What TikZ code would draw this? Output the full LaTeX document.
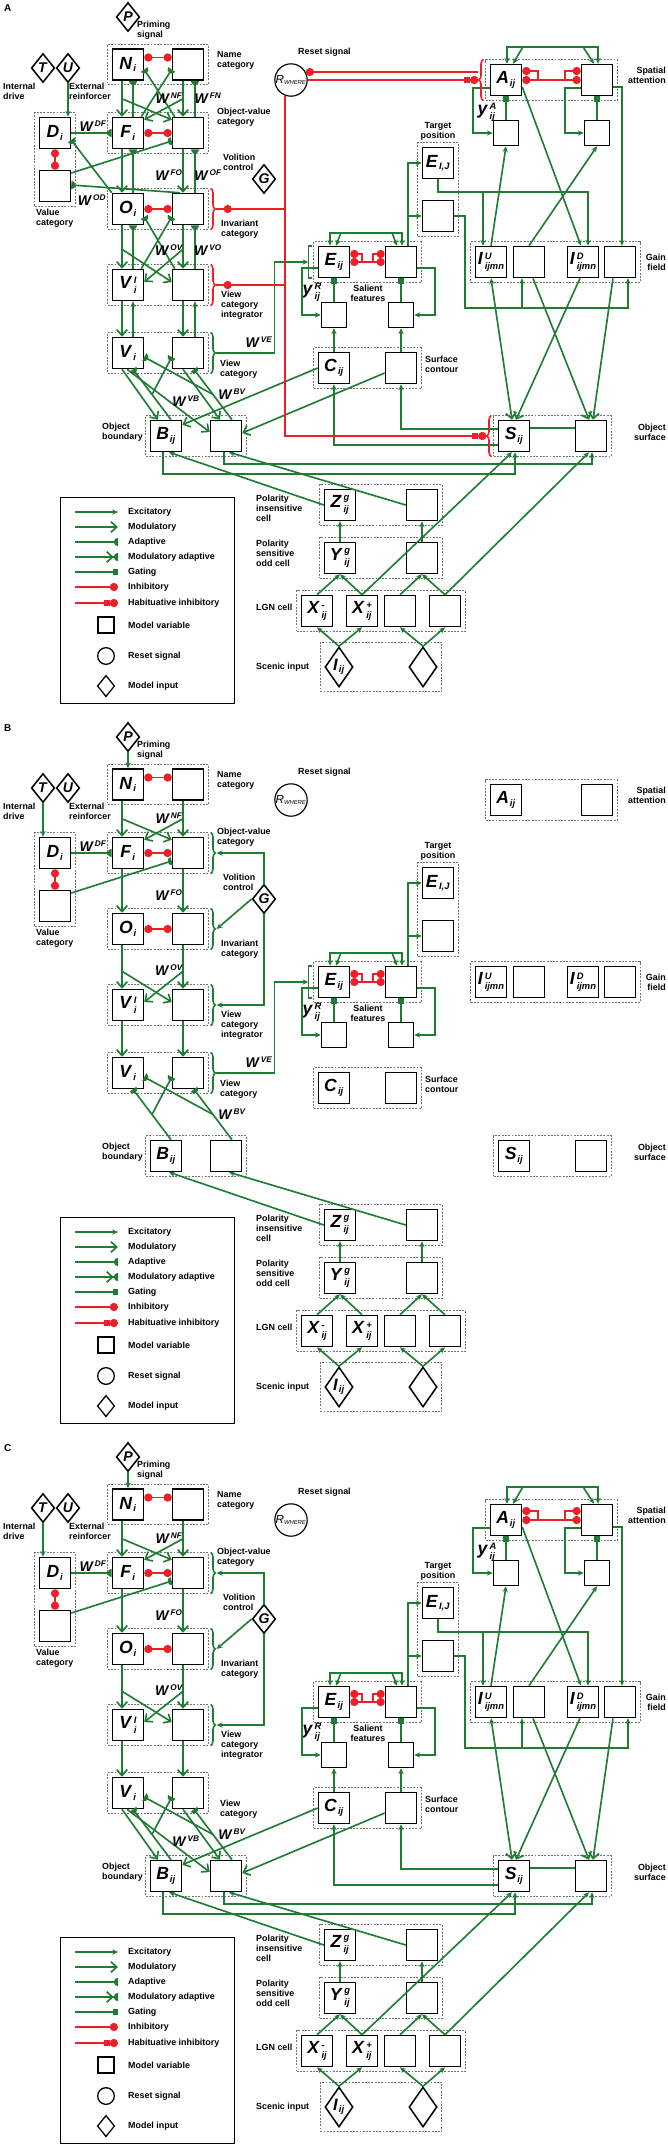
\documentclass[tikz,border=0pt]{standalone}
\usepackage{fontspec}
\setmainfont{Liberation Sans}
\usepackage{tikz}
\usetikzlibrary{arrows.meta,calc,fit,positioning,shapes.geometric,decorations.pathreplacing}

\definecolor{grn}{RGB}{30,125,50}
\definecolor{inhred}{RGB}{236,32,38}

% half disk tip for adaptive weights
\pgfdeclarearrow{
  name = HalfDisk,
  parameters = {\the\pgfarrowlength},
  setup code = {
    \pgfarrowssettipend{0pt}
    \pgfarrowssetlineend{-0.5\pgfarrowlength}
    \pgfarrowssetbackend{-\pgfarrowlength}
    \pgfarrowssavethe\pgfarrowlength
  },
  drawing code = {
    \pgfpathmoveto{\pgfqpoint{0pt}{\pgfarrowlength}}
    \pgfpatharc{90}{270}{\pgfarrowlength}
    \pgfpathclose
    \pgfusepathqfill
  },
  defaults = {length = 3.6pt}
}

\newcommand{\vl}[2]{\textit{#1}\kern0.8pt\ensuremath{_{\mbox{\fontsize{8}{8}\selectfont\bfseries\itshape #2}}}}
\newcommand{\vlu}[3]{\textit{#1}\kern1.4pt\raisebox{-0.3em}{\fontsize{8}{8}\selectfont\bfseries\itshape\shortstack[l]{#3\\#2}}}
\newcommand{\wl}[1]{\textit{W}\kern0.8pt\ensuremath{^{\mbox{\fontsize{7}{7}\selectfont\bfseries\itshape #1}}}}

% nodes shared by the three panels
\newcommand{\panelnodes}[2]{%
\node[lbl, anchor=north west, font=\fontsize{8.5}{8.5}\selectfont\bfseries] (#1tag) at (4,4) {#2};
\node[inp] (#1P) at (128,17) {\textit{P}};
\node[inp] (#1T) at (43,68) {\textit{T}};
\node[inp] (#1U) at (68,68) {\textit{U}};
\node[inp] (#1G) at (264,179) {\textit{G}};
\node[rst] (#1R) at (291,80) {\textit{R}\ensuremath{_{\mbox{\fontsize{5}{5}\selectfont\itshape WHERE}}}};
\node[vbox] (#1Ni) at (128,64.5) {\vl{N}{i}};
\node[vbox] (#1Nr) at (188,64.5) {};
\node[vbox] (#1Fi) at (128,133) {\vl{F}{i}};
\node[vbox] (#1Fr) at (188,133) {};
\node[vbox] (#1Oi) at (128,209) {\vl{O}{i}};
\node[vbox] (#1Or) at (188,209) {};
\node[vbox] (#1VIi) at (128,285) {\vlu{V}{i}{I}};
\node[vbox] (#1VIr) at (188,285) {};
\node[vbox] (#1Vi) at (128,353) {\vl{V}{i}};
\node[vbox] (#1Vr) at (188,353) {};
\node[vbox] (#1Di) at (55,133) {\vl{D}{i}};
\node[vbox] (#1Dl) at (55,186) {};
\node[vbox] (#1Bi) at (166,436) {\vl{B}{ij}};
\node[vbox] (#1Br) at (226,436) {};
\node[vbox] (#1Ai) at (506,80) {\vl{A}{ij}};
\node[vbox] (#1Ar) at (597,80) {};
\node[vbox] (#1EIJ) at (438,163) {\vl{E}{I,J}};
\node[vbox] (#1EL) at (438,216) {};
\node[vbox] (#1Iu) at (491,262) {\vlu{I}{ijmn}{U}};
\node[vbox] (#1Ib) at (529,262) {};
\node[vbox] (#1Id) at (583,262) {\vlu{I}{ijmn}{D}};
\node[vbox] (#1Ie) at (620,262) {};
\node[vbox] (#1Ei) at (334,262) {\vl{E}{ij}};
\node[vbox] (#1Er) at (401,262) {};
\node[sbox] (#1yR) at (334,315) {};
\node[sbox] (#1yRr) at (401,315) {};
\node[vbox] (#1Ci) at (334,368) {\vl{C}{ij}};
\node[vbox] (#1Cr) at (401,368) {};
\node[vbox] (#1Si) at (514,436) {\vl{S}{ij}};
\node[vbox] (#1Sr) at (591,436) {};
\node[vbox] (#1Zi) at (340,505) {\vlu{Z}{ij}{g}};
\node[vbox] (#1Zr) at (422,505) {};
\node[vbox] (#1Yi) at (340,558) {\vlu{Y}{ij}{g}};
\node[vbox] (#1Yr) at (422,558) {};
\node[vbox] (#1Xm) at (317,611) {\vlu{X}{ij}{-}};
\node[vbox] (#1Xp) at (362,611) {\vlu{X}{ij}{+}};
\node[vbox] (#1Xc) at (400,611) {};
\node[vbox] (#1Xd) at (445,611) {};
\node[scn] (#1Ii) at (339,667) {\vl{I}{ij}};
\node[scn] (#1Ir) at (423,667) {};
\node[grp, fit=(#1Ni)(#1Nr)] (#1gN) {};
\node[grp, fit=(#1Fi)(#1Fr)] (#1gF) {};
\node[grp, fit=(#1Oi)(#1Or)] (#1gO) {};
\node[grp, fit=(#1VIi)(#1VIr)] (#1gVI) {};
\node[grp, fit=(#1Vi)(#1Vr)] (#1gV) {};
\node[grp, fit=(#1Di)(#1Dl)] (#1gD) {};
\node[grp, fit=(#1Bi)(#1Br)] (#1gB) {};
\node[grp, fit=(#1Ai)(#1Ar)] (#1gA) {};
\node[grp, fit=(#1EIJ)(#1EL)] (#1gT) {};
\node[grp, fit=(#1Iu)(#1Ie)] (#1gG) {};
\node[grp, fit=(#1Ei)(#1Er)] (#1gE) {};
\node[grp, fit=(#1Ci)(#1Cr)] (#1gC) {};
\node[grp, fit=(#1Si)(#1Sr)] (#1gS) {};
\node[grp, fit=(#1Zi)(#1Zr)] (#1gZ) {};
\node[grp, fit=(#1Yi)(#1Yr)] (#1gY) {};
\node[grp, fit=(#1Xm)(#1Xd)] (#1gX) {};
\node[grp, fit=(#1Ii.north)(#1Ii.south)(#1Ii.west)(#1Ir.east)] (#1gI) {};
\node[lbl, anchor=north west] (#1tP) at (137,21) {Priming\\signal};
\node[lbl, anchor=west] (#1tN) at (217,60) {Name\\category};
\node[lbl, anchor=north west] (#1tT) at (3,83) {Internal\\drive};
\node[lbl, anchor=north west] (#1tU) at (69,83) {External\\reinforcer};
\node[lbl, anchor=north west] (#1tD) at (36,209) {Value\\category};
\node[lbl, anchor=west] (#1tF) at (217,117) {Object-value\\category};
\node[lbl, anchor=north west] (#1tG) at (223,154) {Volition\\control};
\node[lbl, anchor=north west] (#1tO) at (221,220) {Invariant\\category};
\node[lbl, anchor=north west] (#1tVI) at (221,291) {View\\category\\integrator};
\node[lbl, anchor=north west] (#1tV) at (220,360) {View\\category};
\node[lbl, anchor=west] (#1tR) at (298,52) {Reset signal};
\node[lbl, anchor=east, align=right] (#1tA) at (666,75) {Spatial\\attention};
\node[lbl, anchor=south, align=center] (#1tEIJ) at (438,141) {Target\\position};
\node[lbl, anchor=east, align=right] (#1tI) at (666,262) {Gain\\field};
\node[lbl, anchor=north, align=center] (#1tE) at (368,285) {Salient\\features};
\node[lbl, anchor=west] (#1tC) at (425,364) {Surface\\contour};
\node[lbl, anchor=east, align=right] (#1tS) at (666,432) {Object\\surface};
\node[lbl, anchor=east] (#1tB) at (143,432) {Object\\boundary};
\node[lbl, anchor=west] (#1tZ) at (256,508) {Polarity\\insensitive\\cell};
\node[lbl, anchor=west] (#1tY) at (256,553) {Polarity\\sensitive\\odd cell};
\node[lbl, anchor=west] (#1tX) at (256,607) {LGN cell};
\node[lbl, anchor=west] (#1tIn) at (256,667) {Scenic input};
\node[ylab] (#1tyR) at (312,292) {\vlu{y}{ij}{R}};
}

\newcommand{\legendkey}[1]{%
\node[draw, line width=0.8pt, minimum width=5.22cm, minimum height=6.18cm, inner sep=0pt] (#1leg) at (147,600) {};
\node[lbl, anchor=west] (#1k1) at (128,512) {Excitatory};
\node[lbl, anchor=west] (#1k2) at (128,527) {Modulatory};
\node[lbl, anchor=west] (#1k3) at (128,542) {Adaptive};
\node[lbl, anchor=west] (#1k4) at (128,557) {Modulatory adaptive};
\node[lbl, anchor=west] (#1k5) at (128,572) {Gating};
\node[lbl, anchor=west] (#1k6) at (128,587) {Inhibitory};
\node[lbl, anchor=west] (#1k7) at (128,603) {Habituative inhibitory};
\node[lbl, anchor=west] (#1k8) at (128,625) {Model variable};
\node[lbl, anchor=west] (#1k9) at (128,656) {Reset signal};
\node[lbl, anchor=west] (#1k10) at (128,686) {Model input};
\draw[exc] ($(#1k1.west)+(-53,0)$) -- ($(#1k1.west)+(-10,0)$);
\draw[mod] ($(#1k2.west)+(-53,0)$) -- ($(#1k2.west)+(-10,0)$);
\draw[adp] ($(#1k3.west)+(-53,0)$) -- ($(#1k3.west)+(-10,0)$);
\draw[madp] ($(#1k4.west)+(-53,0)$) -- ($(#1k4.west)+(-10,0)$);
\draw[gat] ($(#1k5.west)+(-53,0)$) -- ($(#1k5.west)+(-10,0)$);
\draw[inh] ($(#1k6.west)+(-53,0)$) -- ($(#1k6.west)+(-10,0)$);
\draw[hab] ($(#1k7.west)+(-53,0)$) -- ($(#1k7.west)+(-10,0)$);
\node[draw, line width=1.1pt, minimum size=0.48cm, inner sep=0pt] (#1k8s) at (106,625) {};
\node[circle, draw, line width=1.1pt, minimum size=0.5cm, inner sep=0pt] (#1k9s) at (106,656) {};
\node[diamond, draw, line width=1.1pt, minimum width=0.52cm, minimum height=0.64cm, inner sep=0pt] (#1k10s) at (106,686) {};
}

% wiring found in every panel
\newcommand{\wirebase}[1]{%
\draw[inh2] ($(#1Ni.east)+(0,-7)$) -- ($(#1Nr.west)+(0,-7)$);
\draw[inh2] (#1Fi) -- (#1Fr);
\draw[inh2] (#1Oi) -- (#1Or);
\draw[inh2] (#1Di) -- (#1Dl);
\draw[adp] (#1Di) -- (#1Fi);
\draw[adp] ($(#1Dl.east)+(0,-13)$) -- ($(#1Fr.west)+(0,8)$);
\node[wlab] (#1wDF) at (93,126) {\wl{DF}};
% salient features
\draw[inhs] ($(#1Ei.east)+(0,-8)$) -| ($(#1Ei.east)+(12,0)$);
\draw[inh2] (#1Ei) -- (#1Er);
\draw[inhs] ($(#1Er.west)+(0,-8)$) -| ($(#1Er.west)+(-12,0)$);
\draw[wire, {Stealth[length=5pt,width=4.5pt]}-{Stealth[length=5pt,width=4.5pt]}] ($(#1Ei.north)+(-4,0)$) -- ++(0,-13) -| ($(#1Er.north)+(1,0)$);
\draw[exc] ($(#1Ei.north)+(7,-13)$) -- ($(#1Ei.north)+(2,0)$);
\draw[exc] ($(#1Er.north)+(-9,-13)$) -- ($(#1Er.north)+(-4,0)$);
\draw[exc] ($(#1Er.north)+(7,0)$) |- (#1EIJ);
\draw[exc] ($(#1Er.north)+(7,0)$) |- (#1EL);
\draw[gat] (#1yR) -- (#1Ei);
\draw[gat] (#1yRr) -- (#1Er);
\draw[exc] ($(#1Ei.west)+(0,6)$) -- ++(-16,0) |- (#1yR);
\draw[exc] ($(#1Er.east)+(0,6)$) -- ++(18,0) |- (#1yRr);
% retina to boundaries
\draw[exc] (#1Ii.north) -- (#1Xm.south);
\draw[exc] (#1Ii.north) -- (#1Xp.south);
\draw[exc] (#1Ir.north) -- (#1Xc.south);
\draw[exc] (#1Ir.north) -- (#1Xd.south);
\draw[exc] (#1Xm.north) -- (#1Yi.south);
\draw[exc] (#1Xp.north) -- (#1Yi.south);
\draw[exc] (#1Xc.north) -- (#1Yr.south);
\draw[exc] (#1Xd.north) -- (#1Yr.south);
\draw[exc] (#1Yi) -- (#1Zi);
\draw[exc] (#1Yr) -- (#1Zr);
\draw[exc] (#1Zi.west) -- ($(#1Bi.south)+(3,0)$);
\draw[exc] (#1Zr.west) -- ($(#1Br.south)+(3,0)$);
% boundaries to view categories
\draw[adp] ($(#1Bi.north)+(5,0)$) -- ($(#1Vi.south)+(5,0)$);
\draw[adp] ($(#1Bi.north)!0.5!(#1Vi.south)+(5,0)$) -- ($(#1Vr.west)+(0,4)$);
\draw[adp] ($(#1Br.north)+(6,0)$) -- ($(#1Vr.south)+(6,0)$);
\draw[adp] ($(#1Br.north)!0.5!(#1Vr.south)+(6,0)$) -- ($(#1Vi.east)+(0,4)$);
\node[wlab] (#1wBV) at (232,394) {\wl{BV}};
}

% single top-down lines (panels B and C)
\newcommand{\wireone}[1]{%
\draw[exc] (#1P) -- (#1Ni);
\draw[exc] (#1T.south) -- (#1T.south |- #1Di.north);
\draw[mod] ($(#1Ni.south)+(-6,0)$) -- ($(#1Fi.north)+(-6,0)$);
\draw[mod] ($(#1Nr.south)+(-5,0)$) -- ($(#1Fr.north)+(-5,0)$);
\draw[mod] ($(#1Ni.south)+(-6,18)$) -- ($(#1Fr.north west)+(0,3)$);
\draw[mod] ($(#1Nr.south)+(-5,18)$) -- ($(#1Fi.north east)+(0,3)$);
\node[wlab] (#1wNF) at (169,98) {\wl{NF}};
\draw[mod] ($(#1Fi.south)+(-6,0)$) -- ($(#1Oi.north)+(-6,0)$);
\draw[mod] ($(#1Fr.south)+(-5,0)$) -- ($(#1Or.north)+(-5,0)$);
\node[wlab] (#1wFO) at (169,175) {\wl{FO}};
\draw[mod] ($(#1Oi.south)+(-6,0)$) -- ($(#1VIi.north)+(-6,0)$);
\draw[mod] ($(#1Or.south)+(-5,0)$) -- ($(#1VIr.north)+(-5,0)$);
\draw[mod] ($(#1Oi.south)+(-6,26)$) -- ($(#1VIr.west)+(0,-3)$);
\draw[mod] ($(#1Or.south)+(-5,26)$) -- ($(#1VIi.east)+(0,-3)$);
\node[wlab] (#1wOV) at (169,250) {\wl{OV}};
\draw[mod] ($(#1VIi.south)+(-6,0)$) -- ($(#1Vi.north)+(-6,0)$);
\draw[mod] ($(#1VIr.south)+(-5,0)$) -- ($(#1Vr.north)+(-5,0)$);
}

% volition control (panels B and C)
\newcommand{\wireG}[1]{%
\draw[wire, brc] ($(#1gF.north east)+(2,0)$) -- ($(#1gF.south east)+(2,0)$);
\draw[wire, brc] ($(#1gO.north east)+(2,0)$) -- ($(#1gO.south east)+(2,0)$);
\draw[wire, brc] ($(#1gVI.north east)+(2,0)$) -- ($(#1gVI.south east)+(2,0)$);
\draw[exc] (#1G.north) |- ($(#1gF.east)+(8,0)$);
\draw[exc] (#1G.west) -- ($(#1gO.east)+(8,0)$);
\draw[exc] (#1G.south) |- ($(#1gVI.east)+(8,0)$);
}

% view category to salient features (panels A and B)
\newcommand{\wireVE}[1]{%
\draw[wire, brc] ($(#1gV.north east)+(2,0)$) -- ($(#1gV.south east)+(2,0)$);
\draw[wire] ($(#1gE.west)+(-1,-16)$) -- ++(-4,0) -- ++(0,32) -- ++(4,0);
\draw[exc] ($(#1gV.east)+(7,0)$) -- ++(59,0) |- ($(#1gE.west)+(-5,0)$);
\node[wlab] (#1wVE) at (259,342) {\wl{VE}};
}

% view category to boundaries (panels A and C)
\newcommand{\wireVBmod}[1]{%
\draw[mod] ($(#1Vi.south)+(-6,0)$) -- ($(#1Bi.north)+(-8,0)$);
\draw[mod] ($(#1Vi.south)+(-1,0)$) -- ($(#1Br.west)+(0,-4)$);
\draw[mod] ($(#1Vr.south)+(-5,0)$) -- ($(#1Br.north)+(-6,0)$);
\node[wlab] (#1wVB) at (186,401) {\wl{VB}};
}

% where stream (panels A and C)
\newcommand{\wirewhere}[1]{%
\node[sbox] (#1yA) at (506,133) {};
\node[sbox] (#1yAr) at (597,133) {};
\node[ylab] (#1tyA) at (487,112) {\vlu{y}{ij}{A}};
\draw[inhs] ($(#1Ai.east)+(0,-9)$) -| ($(#1Ai.east)+(16,0)$);
\draw[inh2] (#1Ai) -- (#1Ar);
\draw[inhs] ($(#1Ar.west)+(0,-9)$) -| ($(#1Ar.west)+(-16,0)$);
\draw[wire, {Stealth[length=5pt,width=4.5pt]}-{Stealth[length=5pt,width=4.5pt]}] ($(#1Ai.north)+(1,0)$) -- ++(0,-17) -| ($(#1Ar.north)+(1,0)$);
\draw[exc] ($(#1Ai.north)+(17,-17)$) -- ($(#1Ai.north)+(7,0)$);
\draw[exc] ($(#1Ar.north)+(-14,-17)$) -- ($(#1Ar.north)+(-3,0)$);
\draw[gat] (#1yA) -- (#1Ai);
\draw[gat] (#1yAr) -- (#1Ar);
\draw[exc] ($(#1Ai.west)+(0,8)$) -- ++(-17,0) |- (#1yA);
\draw[exc] ($(#1Ar.west)+(0,8)$) -- ++(-16,0) |- (#1yAr);
\draw[exc] ($(#1Ai.east)+(0,7)$) -- ($(#1Id.north)+(-2,0)$);
\draw[exc] ($(#1Ar.east)+(0,7)$) -| ($(#1Ie.north)+(2,0)$);
\draw[exc] (#1Iu.north) -- (#1yA.south);
\draw[exc] (#1Ib.north) -- (#1yAr.south);
\coordinate (#1tj) at ($(#1EIJ.south)+(0,13)$);
\draw[exc] (#1EIJ.south) -- (#1tj) -| ($(#1Id.north)+(5,0)$);
\draw[exc] ($(#1tj -| #1Iu.north)+(-8,0)$) -- ($(#1Iu.north)+(-8,0)$);
\coordinate (#1tk) at ($(#1EL.east)+(11,0)$);
\draw[exc] (#1EL.east) -- (#1tk) |- ($(#1Ie.south)+(8,30)$) -- ($(#1Ie.south)+(8,0)$);
\draw[exc] ($(#1Ib.south)+(-7,30)$) -- ($(#1Ib.south)+(-7,0)$);
\draw[wire, {Stealth[length=5pt,width=4.5pt]}-{Straight Barb[length=5pt,width=9pt]}] (#1Iu.south) -- ($(#1Si.north)+(-2,0)$);
\draw[mod] ($(#1Id.south)+(-3,0)$) -- ($(#1Si.north)+(2,0)$);
\draw[mod] ($(#1Ib.south)+(4,0)$) -- ($(#1Sr.north)+(-2,0)$);
\draw[mod] ($(#1Ie.south)+(-7,0)$) -- ($(#1Sr.north)+(2,0)$);
\draw[wire] ($(#1Si.east)+(0,-8)$) -- ($(#1Sr.west)+(0,-8)$);
\draw[exc] ($(#1Si.west)+(0,9)$) -| (#1Ci);
\draw[exc] ($(#1Si.west)+(0,-7)$) -| (#1Cr);
\draw[exc] (#1Ci) -- (#1yR);
\draw[exc] (#1Cr) -- (#1yRr);
\draw[mod] (#1Ci.west) -- ($(#1Bi.north east)+(0,5)$);
\draw[mod] ($(#1Cr.west)+(0,5)$) -- ($(#1Br.east)+(0,-3)$);
\draw[exc] ($(#1Bi.south)+(-3,0)$) -- ++(0,22) -| ($(#1Si.south)+(1,0)$);
\draw[exc] ($(#1Br.south)+(-2,0)$) -- ++(0,12) -| ($(#1Sr.south)+(1,0)$);
\draw[exc] (#1Xp.north) -- ($(#1Si.south)+(-2,0)$);
\draw[exc] (#1Xd.north) -- ($(#1Sr.south)+(-2,0)$);
}

\begin{document}
\begin{tikzpicture}[x=0.03cm, y=-0.03cm,
vbox/.style={draw, line width=1.3pt, minimum size=0.93cm, inner sep=0pt, font=\fontsize{15}{15}\selectfont\bfseries},
sbox/.style={vbox, minimum size=0.75cm},
inp/.style={diamond, draw, line width=1.3pt, inner sep=0pt, minimum width=0.7cm, minimum height=0.87cm, font=\fontsize{12}{12}\selectfont\bfseries},
scn/.style={inp, minimum width=0.84cm, minimum height=1.2cm, font=\fontsize{14}{14}\selectfont\bfseries},
rst/.style={circle, draw, line width=1pt, minimum size=0.96cm, inner sep=0pt, font=\fontsize{10}{10}\selectfont},
grp/.style={draw=black!55, line width=0.6pt, dash pattern=on 1.6pt off 1.2pt, inner sep=0.12cm},
lbl/.style={font=\fontsize{7.6}{8.5}\selectfont\bfseries, align=left, inner sep=0pt},
wlab/.style={font=\fontsize{12}{12}\selectfont\bfseries, inner sep=0pt},
ylab/.style={font=\fontsize{15}{15}\selectfont\bfseries, inner sep=0pt},
wire/.style={draw=grn, line width=1.4pt},
exc/.style={wire, -{Stealth[length=5pt,width=4.5pt]}},
mod/.style={wire, -{Straight Barb[length=5pt,width=9pt]}},
adp/.style={wire, -{HalfDisk[length=3.6pt]}},
madp/.style={wire, -{Straight Barb[length=5pt,width=9pt] HalfDisk[length=3.6pt]}},
gat/.style={wire, -{Square[length=4.5pt,width=4.5pt]}},
rwire/.style={draw=inhred, line width=1.4pt},
inh/.style={rwire, -{Circle[length=7pt]}},
inhs/.style={rwire, {Circle[length=7pt]}-},
inh2/.style={rwire, {Circle[length=7pt]}-{Circle[length=7pt]}},
hab/.style={rwire, -{Square[length=5pt,width=5pt] Circle[length=7pt]}},
brc/.style={decorate, decoration={brace, amplitude=4pt}},
]
\useasboundingbox (0,0) rectangle (667,2146);

% ---------------- panel A
\panelnodes{a}{A}
\legendkey{a}
\wirebase{a}
\wireVE{a}
\wireVBmod{a}
\wirewhere{a}
\draw[exc] (aU.south) -- (aU.south |- aDi.north);
\draw[mod] ($(aNi.south)+(-6,0)$) -- ($(aFi.north)+(-6,0)$);
\draw[adp] ($(aFi.north)+(5,0)$) -- ($(aNi.south)+(5,0)$);
\draw[mod] ($(aNr.south)+(-5,0)$) -- ($(aFr.north)+(-5,0)$);
\draw[adp] ($(aFr.north)+(7,0)$) -- ($(aNr.south)+(7,0)$);
\draw[mod] ($(aNi.south)+(-6,18)$) -- ($(aFr.north west)+(0,3)$);
\draw[mod] ($(aNr.south)+(-5,18)$) -- ($(aFi.north east)+(0,3)$);
\draw[adp] ($(aFr.north west)+(3,0)$) -- ($(aNi.east)+(0,5)$);
\draw[adp] ($(aFi.north east)+(-3,0)$) -- ($(aNr.west)+(0,5)$);
\node[wlab] (awNF) at (169,98) {\wl{NF}};
\node[wlab] (awFN) at (208,98) {\wl{FN}};
\draw[mod] ($(aFi.south)+(-6,0)$) -- ($(aOi.north)+(-6,0)$);
\draw[adp] ($(aOi.north)+(5,0)$) -- ($(aFi.south)+(5,0)$);
\draw[mod] ($(aFr.south)+(-5,0)$) -- ($(aOr.north)+(-5,0)$);
\draw[adp] ($(aOr.north)+(7,0)$) -- ($(aFr.south)+(7,0)$);
\node[wlab] (awFO) at (169,175) {\wl{FO}};
\node[wlab] (awOF) at (208,175) {\wl{OF}};
\draw[adp] (aOi.north west) -- ($(aDi.east)+(0,7)$);
\draw[adp] ($(aOr.north west)+(8,0)$) -- ($(aDl.east)+(0,-1)$);
\node[wlab] (awOD) at (92,200) {\wl{OD}};
\draw[mod] ($(aOi.south)+(-6,0)$) -- ($(aVIi.north)+(-6,0)$);
\draw[adp] ($(aVIi.north)+(5,0)$) -- ($(aOi.south)+(5,0)$);
\draw[mod] ($(aOr.south)+(-5,0)$) -- ($(aVIr.north)+(-5,0)$);
\draw[adp] ($(aVIr.north)+(7,0)$) -- ($(aOr.south)+(7,0)$);
\draw[mod] ($(aOi.south)+(-6,24)$) -- ($(aVIr.west)+(0,-3)$);
\draw[mod] ($(aOr.south)+(-5,24)$) -- ($(aVIi.east)+(0,-3)$);
\draw[adp] ($(aVIr.north west)+(3,0)$) -- ($(aOi.east)+(0,8)$);
\draw[adp] ($(aVIi.north east)+(-3,0)$) -- ($(aOr.west)+(0,8)$);
\node[wlab] (awOV) at (169,250) {\wl{OV}};
\node[wlab] (awVO) at (208,250) {\wl{VO}};
\draw[mod] ($(aVIi.south)+(-6,0)$) -- ($(aVi.north)+(-6,0)$);
\draw[exc] ($(aVi.north)+(5,0)$) -- ($(aVIi.south)+(5,0)$);
\draw[mod] ($(aVIr.south)+(-5,0)$) -- ($(aVr.north)+(-5,0)$);
\draw[exc] ($(aVr.north)+(7,0)$) -- ($(aVIr.south)+(7,0)$);
% reset signal
\draw[rwire, brc] ($(agO.north east)+(2,0)$) -- ($(agO.south east)+(2,0)$);
\draw[rwire, brc] ($(agVI.north east)+(2,0)$) -- ($(agVI.south east)+(2,0)$);
\draw[rwire, brc] ($(agA.south west)+(-2,0)$) -- ($(agA.north west)+(-2,0)$);
\draw[rwire, brc] ($(agS.south west)+(-2,0)$) -- ($(agS.north west)+(-2,0)$);
\coordinate (arv) at ($(aR.south)+(-6,-1)$);
\draw[rwire] ($(agO.east)+(7,0)$) -- ++(8,0);
\draw[inh] (arv |- agO.east) -- ($(agO.east)+(15,0)$);
\draw[rwire] ($(agVI.east)+(7,0)$) -- ++(8,0);
\draw[inh] (arv |- agVI.east) -- ($(agVI.east)+(15,0)$);
\draw[hab] (arv) |- ($(agS.west)+(-7,0)$);
\draw[inh] ($(agA.west)+(-7,-8)$) -- ($(aR.east)+(-2,-8)$);
\draw[hab] (aR.east) -- ($(agA.west)+(-7,0)$);

% ---------------- panel B
\begin{scope}[shift={(0,720)}]
\panelnodes{b}{B}
\legendkey{b}
\wirebase{b}
\wireone{b}
\wireG{b}
\wireVE{b}
\end{scope}

% ---------------- panel C
\begin{scope}[shift={(0,1440)}]
\panelnodes{c}{C}
\legendkey{c}
\wirebase{c}
\wireone{c}
\wireG{c}
\wireVBmod{c}
\wirewhere{c}
\end{scope}
\end{tikzpicture}
\end{document}
